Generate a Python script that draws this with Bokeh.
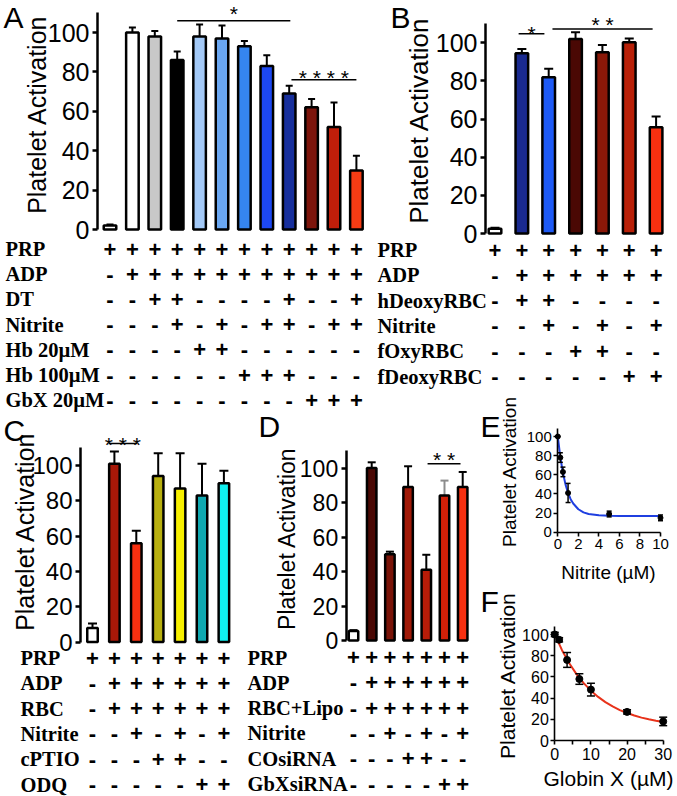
import math
from bokeh.plotting import figure
from bokeh.models import Range1d, LinearAxis, FixedTicker, ColumnDataSource
from bokeh.core.properties import value
from bokeh.embed import file_html
from bokeh.resources import INLINE

# ---------------- data ----------------
Y_TICKS = [0, 20, 40, 60, 80, 100]
Y_LABEL = "Platelet Activation"

# Panel A
A_values = [2, 100, 98, 86, 98, 97, 93, 83, 69, 62, 52, 30]
A_errors = [0.6, 2.5, 2.7, 4.4, 6.0, 6.5, 2.7, 5.4, 4.0, 4.2, 12.5, 7.4]
A_rows = ["PRP", "ADP", "DT", "Nitrite", "Hb 20µM", "Hb 100µM", "GbX 20µM"]
A_signs = ["++++++++++++", "-+++++++++++", "--++----+--+", "---+-+-++-++",
           "----++------", "------+++---", "---------+++"]
A_sig = [(3.0, 8.05, 106, "*", 111.0), (8.1, 11.0, 76, "* * * *", 78.8)]

# Panel B
B_values = [2.5, 94.5, 82, 102, 95, 100.3, 55.7]
B_errors = [0.5, 2.3, 4.4, 3.5, 3.9, 2.0, 5.7]
B_rows = ["PRP", "ADP", "hDeoxyRBC", "Nitrite", "fOxyRBC", "fDeoxyRBC"]
B_signs = ["+++++++", "-++++++", "-++----", "--+-+-+", "---++--", "-----++"]
B_sig = [(0.88, 1.84, 104.7, "*", 106.5), (2.14, 5.87, 107.3, "* *", 111.2)]

# Panel C
C_values = [8, 101, 56, 94, 87, 83, 90]
C_errors = [2.5, 7, 7, 13, 20, 18, 7]
C_rows = ["PRP", "ADP", "RBC", "Nitrite", "cPTIO", "ODQ"]
C_signs = ["+++++++", "-++++++", "-++++++", "--+-+-+", "---++--", "-----++"]
C_sig = [(0.73, 2.05, 112.5, "* * *", 113.6)]

# Panel D
D_values = [5.5, 100, 50, 89, 41, 84, 89]
D_errors = [0.5, 3.3, 1.5, 12, 8.7, 8.7, 8.7]
D_rows = ["PRP", "ADP", "RBC+Lipo", "Nitrite", "COsiRNA", "GbXsiRNA"]
D_signs = ["+++++++", "-++++++", "-++++++", "--+-+-+", "---++--", "-----++"]
D_sig = [(4.07, 5.88, 102.4, "* *", 106.7)]

# Panel E (nitrite dose response)
E_x = [0, 0.25, 0.5, 1, 5, 10]
E_y = [100, 78, 63, 41, 19, 15]
E_err = [0, 5, 5, 10, 3, 3]
E_fit_x = [0, 0.25, 0.5, 0.75, 1, 1.25, 1.5, 2, 2.5, 3, 4, 5, 6, 8, 10]
E_fit_y = [100, 78, 62, 50, 41, 34.5, 30, 24, 20.7, 19, 17.6, 17.2, 17, 17, 17]
E_xticks = [0, 2, 4, 6, 8, 10]
E_xlabel = "Nitrite (µM)"

# Panel F (globin X dose response)
F_x = [0, 1.2, 3.4, 6.8, 10, 20, 30]
F_y = [100, 95, 76, 58, 48, 27, 18]
F_err = [2, 2, 7, 5, 6, 2, 4]
F_fit_x = [0, 2, 4, 6, 8, 10, 12, 14, 16, 18, 20, 22, 24, 26, 28, 30]
F_fit_y = [100, 85.2, 72.9, 62.6, 54.1, 47.0, 41.1, 36.2, 32.1, 28.7, 25.9, 23.6, 21.6, 20.0, 18.7, 17.5]
F_xticks = [0, 10, 20, 30]
F_xminor = [5, 15, 25]
F_xlabel = "Globin X (µM)"

# ---------------- styles ----------------
A_colors = ["#ffffff", "#ffffff", "#c8c8c8", "#000000", "#a3c9f7", "#6aa7f2", "#3585f0",
            "#1d48f2", "#172f9c", "#7d150c", "#bf1e0a", "#f53c14"]
B_colors = ["#ffffff", "#1a2a90", "#1e5af5", "#4a0804", "#8a1808", "#b82008", "#f83010"]
C_colors = ["#ffffff", "#a81808", "#f83010", "#b8b010", "#f8f000", "#10a8b0", "#10f0f0"]
D_colors = ["#ffffff", "#4a0804", "#7a1408", "#a01a08", "#b81c08", "#d02008", "#f83010"]
D_err_colors = ["black", "black", "black", "black", "black", "#8c8c8c", "black"]

SANS = "Liberation Sans"
SERIF = "Liberation Serif"

W, H = 677, 796
X0, Y0 = 0, 0   # canvas origin in reference pixels


def lin(pa, va, pb, vb, lo, hi):
    s = (vb - va) / (pb - pa)
    return Range1d(start=va + (lo - pa) * s, end=va + (hi - pa) * s)


def xr(pa, va, pb, vb):
    return lin(pa, va, pb, vb, X0, X0 + W)


def yr(pa, va, pb, vb):
    return lin(pa, va, pb, vb, Y0 + H, Y0)


p = figure(width=W, height=H, x_range=Range1d(X0, X0 + W), y_range=Range1d(Y0 + H, Y0),
           x_axis_type=None, y_axis_type=None, toolbar_location=None,
           output_backend="svg", min_border=0, outline_line_color=None)
p.background_fill_color = "white"
p.border_fill_color = "white"

ranges_x = {}
ranges_y = {}
axes = []
deferred = []


def letter(t, x, y):
    p.text(x=[x], y=[y], text=[t], text_font=value(SANS), text_font_size="30px",
           text_align="left", text_baseline="middle", text_color="black")


def ylabel(x, y, size):
    p.text(x=[x], y=[y], text=[Y_LABEL], angle=math.pi / 2, text_font=value(SANS),
           text_font_size=size, text_align="center", text_baseline="middle",
           text_color="black")


def style_axis(ax, lw, tick_font, tick_out, standoff):
    ax.axis_line_width = lw
    ax.axis_line_color = "black"
    ax.major_tick_line_width = lw
    ax.major_tick_line_color = "black"
    ax.major_tick_out = tick_out
    ax.major_tick_in = 0
    ax.minor_tick_line_color = None
    ax.major_label_text_font = SANS
    ax.major_label_text_font_size = tick_font
    ax.major_label_text_color = "black"
    ax.major_label_standoff = standoff


def bar_panel(key, vals, errs, colors, ecolors, rows, signs, sig, L):
    xn, yn = key + "x", key + "y"
    px0, step = L["x"]
    p0, p100 = L["y"]
    ranges_x[xn] = xr(px0, 0, px0 + step, 1)
    ranges_y[yn] = yr(p0, 0, p100, 100)
    idx = list(range(len(vals)))
    tops = [v + e for v, e in zip(vals, errs)]
    cap = L["cap"] / step
    src = ColumnDataSource(dict(x=idx, v=vals, t=tops, c=colors, ec=ecolors,
                                xl=[i - cap for i in idx], xh=[i + cap for i in idx]))
    rk = dict(x_range_name=xn, y_range_name=yn)
    deferred.append((src, rk, L))

    # y axis
    ax = LinearAxis(y_range_name=yn, fixed_location=L["axis"], bounds=(0, 110),
                    ticker=FixedTicker(ticks=Y_TICKS))
    style_axis(ax, 2.5, L["tick_font"], 5, 3)
    axes.append((ax, "left"))

    # significance brackets
    for (a, b, yl, lab, ys) in sig:
        p.segment(x0=[a], y0=[yl], x1=[b], y1=[yl], line_color="black", line_width=1.5, **rk)
        p.text(x=[(a + b) / 2], y=[ys], text=[lab], text_align="center",
               text_baseline="middle", y_offset=3, text_font=value(SANS),
               text_font_size="21px", text_color="black", **rk)

    # condition table
    ry0, rdy = L["rows"]
    for r, (lab, s) in enumerate(zip(rows, signs)):
        y = ry0 + r * rdy
        p.text(x=[L["label_x"]], y=[y], text=[lab], text_font=value(SERIF),
               text_font_style="bold", text_font_size="20.5px", text_align="left",
               text_baseline="middle", text_color="black")
        p.text(x=idx, y=[y] * len(s), text=list(s), text_font=value(SANS),
               text_font_style="bold", text_font_size="22px", text_align="center",
               text_baseline="middle", text_color="black", x_range_name=xn)

    letter(*L["letter"])
    ylabel(*L["ylab"])


def curve_panel(key, xs, ys, es, fx, fy, color, xticks, xminor, xmax, xlabel, L):
    xn, yn = key + "x", key + "y"
    ranges_x[xn] = xr(L["x"][0], 0, L["x"][1], xmax)
    ranges_y[yn] = yr(L["y"][0], 0, L["y"][1], 100)
    rk = dict(x_range_name=xn, y_range_name=yn)
    p.line(x=fx, y=fy, line_color=color, line_width=2, **rk)
    cap = L["cap"] * xmax / (L["x"][1] - L["x"][0])
    lo = [y - e for y, e in zip(ys, es)]
    hi = [y + e for y, e in zip(ys, es)]
    p.segment(x0=xs, y0=lo, x1=xs, y1=hi, line_color="black", line_width=1.5, **rk)
    p.segment(x0=[x - cap for x in xs], y0=lo, x1=[x + cap for x in xs], y1=lo,
              line_color="black", line_width=1.5, **rk)
    p.segment(x0=[x - cap for x in xs], y0=hi, x1=[x + cap for x in xs], y1=hi,
              line_color="black", line_width=1.5, **rk)
    p.scatter(x=xs, y=ys, size=L["dot"], fill_color="black", line_color="black", **rk)

    yax = LinearAxis(x_range_name=xn, y_range_name=yn, fixed_location=0, bounds=(0, 108),
                     ticker=FixedTicker(ticks=Y_TICKS))
    style_axis(yax, 1.6, L["tick_font"], 4, 2)
    axes.append((yax, "left"))
    xax = LinearAxis(x_range_name=xn, y_range_name=yn, fixed_location=0, bounds=(0, xmax),
                     ticker=FixedTicker(ticks=xticks, minor_ticks=xminor))
    style_axis(xax, 1.6, L["tick_font"], 4, 3)
    if xminor:
        xax.minor_tick_line_color = "black"
        xax.minor_tick_line_width = 1.6
        xax.minor_tick_out = 4
        xax.minor_tick_in = 0
    axes.append((xax, "below"))

    p.text(x=[L["xlab"][0]], y=[L["xlab"][1]], text=[xlabel], text_font=value(SANS),
           text_font_size=L["xlab"][2], text_align="center", text_baseline="middle",
           text_color="black")
    letter(*L["letter"])
    ylabel(*L["ylab"])


bar_panel("A", A_values, A_errors, A_colors, ["black"] * len(A_values), A_rows, A_signs, A_sig,
          dict(x=(109.5, 22.4), y=(229, 32), axis=97, tick_font="25px", rows=(248.5, 25.2),
               label_x=5, bar_w=0.56, cap=3.5, letter=("A", 3, 17), ylab=(36.5, 114, "25px")))
bar_panel("B", B_values, B_errors, B_colors, ["black"] * len(B_values), B_rows, B_signs, B_sig,
          dict(x=(494.5, 26.85), y=(233, 42.3), axis=485, tick_font="25px", rows=(249.5, 25.3),
               label_x=377, bar_w=0.47, cap=4.5, letter=("B", 390, 17), ylab=(418, 120, "26px")))
bar_panel("C", C_values, C_errors, C_colors, ["black"] * len(C_values), C_rows, C_signs, C_sig,
          dict(x=(92, 21.9), y=(641.5, 465), axis=80, tick_font="24px", rows=(657.5, 25.3),
               label_x=20, bar_w=0.48, cap=4.5, letter=("C", 3, 430), ylab=(24, 531, "25px")))
bar_panel("D", D_values, D_errors, D_colors, D_err_colors, D_rows, D_signs, D_sig,
          dict(x=(353, 18.2), y=(640, 467.5), axis=345.7, tick_font="23px", rows=(657, 25.3),
               label_x=247, bar_w=0.52, cap=4.0, letter=("D", 258, 426), ylab=(286.5, 538, "23px")))

# bars and error bars
for src, rk, L in deferred:
    p.segment(x0="x", y0="v", x1="x", y1="t", line_color="ec", line_width=2, source=src, **rk)
    p.segment(x0="xl", y0="t", x1="xh", y1="t", line_color="ec", line_width=2, source=src, **rk)
    p.vbar(x="x", top="v", bottom=0, width=L["bar_w"], fill_color="c", line_color="black",
           line_width=2.5, source=src, **rk)

curve_panel("E", E_x, E_y, E_err, E_fit_x, E_fit_y, "#1f3fe0", E_xticks, [], 10, E_xlabel,
            dict(x=(557.3, 660), y=(531.7, 436), cap=2.5, dot=5, tick_font="15px",
                 xlab=(608, 571.5, "19px"), letter=("E", 480, 426), ylab=(508.5, 471, "19px")))
curve_panel("F", F_x, F_y, F_err, F_fit_x, F_fit_y, "#e8321a", F_xticks, F_xminor, 30, F_xlabel,
            dict(x=(554.3, 662.7), y=(740, 634), cap=4, dot=7, tick_font="16px",
                 xlab=(608, 778, "21px"), letter=("F", 480, 601), ylab=(506.5, 675, "21px")))

p.extra_x_ranges = ranges_x
p.extra_y_ranges = ranges_y
for ax, side in axes:
    p.add_layout(ax, side)

open("out.html", "w").write(file_html(p, INLINE))
